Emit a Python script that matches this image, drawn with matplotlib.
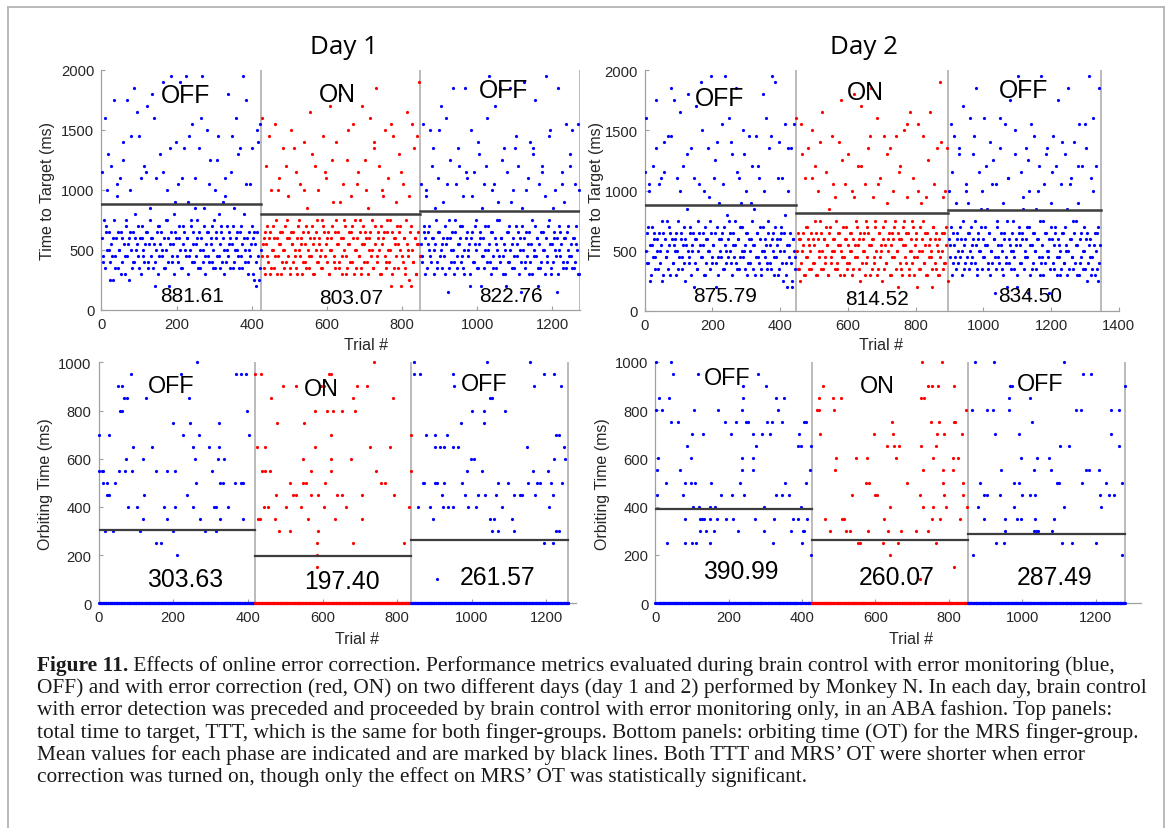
import numpy as np
import matplotlib
matplotlib.use("Agg")
import matplotlib.pyplot as plt
from matplotlib.lines import Line2D

plt.rcParams['font.family'] = ['Liberation Sans', 'DejaVu Sans']

W, H = 1171, 829

# ---------------- data ----------------
phase_names = ['OFF', 'ON', 'OFF']
phase_colors = ['#0000ff', '#ff0000', '#0000ff']

# time to target (ms), read left to right; the "_b" lists are the trials in between
day1_ttt_off1 = [1150, 400, 750, 1600, 650, 1000, 500, 250, 1200, 450,
                 600, 1750, 350, 1050, 650, 500, 1100, 300, 600, 1400,
                 450, 750, 1750, 550, 250, 650, 1450, 400, 1850, 600,
                 500, 1650, 700, 350, 1100, 600, 450, 1200, 550, 650,
                 1700, 400, 850, 600, 1800, 350, 550, 200, 1100, 700,
                 450, 1300, 650, 500, 1900, 350, 750, 1000, 600, 200,
                 550, 1950, 400, 800, 650, 1400, 450, 1050, 600, 1900,
                 350, 700, 1350, 500, 1950, 600, 900, 450, 750, 1550,
                 650, 400, 1100, 550, 750, 1350, 350, 600, 1950, 500,
                 850, 450, 1500, 650, 400, 1250, 550, 700, 350, 1000,
                 600, 450, 1450, 800, 350, 650, 900, 500, 1100, 400,
                 700, 1800, 550, 600, 1450, 350, 850, 500, 1600, 650,
                 450, 1350, 700, 350, 1950, 600, 500, 1750, 400, 650,
                 1050, 550, 1350, 300, 650, 200, 1500, 450, 250, 1550]
day1_ttt_off1_b = [600, 450, 350, 700, 500, 1300, 650, 400, 550, 250,
                   750, 450, 600, 950, 350, 500, 650, 400, 1250, 550,
                   300, 700, 450, 600, 1000, 500, 350, 650, 400, 800,
                   550, 450, 1450, 600, 300, 700, 500, 400, 1150, 650,
                   350, 550, 750, 450, 600, 1600, 400, 500, 650, 300,
                   700, 550, 450, 1150, 600, 350, 500, 750, 400, 1350,
                   650, 450, 550, 300, 900, 600, 400, 700, 500, 350,
                   1100, 550, 650, 450, 600, 300, 1450, 500, 700, 400,
                   550, 850, 450, 600, 350, 650, 500, 1600, 400, 700,
                   300, 550, 650, 450, 1050, 600, 400, 500, 750, 350,
                   650, 1250, 450, 550, 700, 400, 600, 300, 950, 500,
                   450, 650, 350, 1150, 550, 700, 400, 600, 500, 1300,
                   350, 650, 450, 550, 800, 400, 1050, 600, 300, 500,
                   450, 700, 600, 250, 550, 400, 650, 1400, 350, 500]
day1_ttt_on = [1600, 550, 350, 650, 1200, 450, 600, 300, 1000, 500,
               700, 350, 1550, 600, 450, 1100, 550, 300, 650, 1350,
               500, 400, 750, 950, 600, 350, 1500, 550, 650, 450,
               1150, 300, 700, 500, 1050, 600, 400, 1400, 550, 350,
               850, 650, 450, 1650, 700, 300, 600, 1200, 500, 400,
               1000, 550, 350, 750, 1450, 650, 450, 1100, 600, 300,
               1700, 500, 700, 900, 400, 650, 1400, 550, 350, 1800,
               600, 450, 1050, 750, 300, 1250, 550, 650, 400, 950,
               700, 1550, 500, 350, 600, 1150, 450, 750, 300, 1700,
               550, 650, 1000, 400, 850, 600, 1600, 500, 350, 1350,
               700, 1850, 450, 600, 1200, 300, 550, 950, 650, 1500,
               400, 750, 1100, 500, 200, 650, 1450, 350, 600, 900,
               550, 1300, 700, 200, 450, 1050, 600, 350, 1650, 500,
               950, 650, 200, 1550, 400, 600, 300, 1450, 550, 1900]
day1_ttt_on_b = [450, 600, 300, 550, 700, 400, 1450, 650, 350, 500,
                 600, 450, 750, 300, 1000, 550, 650, 400, 500, 350,
                 700, 1200, 600, 450, 300, 650, 550, 400, 1350, 500,
                 350, 600, 750, 450, 550, 300, 650, 1000, 400, 700,
                 500, 350, 600, 450, 1300, 550, 300, 650, 750, 400,
                 600, 450, 500, 350, 700, 1150, 550, 400, 650, 300,
                 500, 600, 1250, 450, 350, 750, 550, 650, 400, 900,
                 300, 600, 500, 700, 450, 350, 1500, 550, 650, 400,
                 600, 300, 750, 500, 1050, 450, 650, 350, 550, 700,
                 400, 1250, 600, 300, 500, 650, 450, 750, 350, 1400,
                 550, 400, 650, 500, 300, 700, 1000, 600, 450, 350,
                 650, 500, 400, 750, 1550, 300, 600, 550, 450, 700,
                 350, 650, 500, 1150, 400, 600, 300, 750, 550, 450,
                 250, 700, 500, 400, 1350, 600, 300, 550, 650, 450]
day1_ttt_off2 = [1050, 450, 1550, 650, 300, 950, 550, 700, 1500, 400,
                 600, 1350, 500, 850, 350, 1100, 650, 450, 1700, 550,
                 900, 300, 1600, 600, 150, 750, 1250, 500, 1850, 400,
                 650, 1050, 350, 550, 1200, 700, 450, 950, 300, 1850,
                 600, 1100, 500, 200, 1500, 650, 400, 1150, 550, 750,
                 350, 1300, 600, 200, 850, 450, 1050, 700, 1600, 500,
                 1950, 400, 650, 1000, 350, 1700, 550, 750, 900, 450,
                 1850, 600, 300, 1350, 500, 200, 1150, 650, 400, 1850,
                 550, 1000, 350, 1350, 700, 450, 1200, 600, 150, 850,
                 500, 1900, 400, 650, 1100, 300, 1400, 550, 750, 1350,
                 450, 1750, 600, 200, 1050, 350, 650, 1200, 500, 950,
                 1950, 400, 700, 1450, 550, 300, 850, 600, 1000, 450,
                 150, 1850, 500, 650, 1150, 350, 900, 600, 1550, 400,
                 700, 1200, 450, 1500, 600, 350, 1050, 550, 1550, 300]
day1_ttt_off2_b = [550, 400, 700, 600, 1000, 350, 650, 500, 450, 1200,
                   600, 300, 550, 750, 400, 650, 1500, 500, 350, 600,
                   450, 700, 550, 1050, 350, 600, 400, 650, 500, 300,
                   750, 450, 1350, 550, 600, 400, 700, 350, 500, 1150,
                   650, 450, 550, 300, 600, 950, 400, 700, 500, 350,
                   1400, 550, 650, 450, 600, 350, 500, 1200, 400, 700,
                   550, 300, 650, 450, 1050, 600, 350, 500, 750, 400,
                   600, 1250, 450, 550, 300, 650, 400, 700, 500, 900,
                   350, 600, 450, 1450, 550, 650, 300, 500, 400, 700,
                   600, 350, 1000, 450, 550, 650, 400, 300, 1300, 500,
                   700, 450, 600, 350, 550, 400, 1150, 650, 500, 300,
                   600, 450, 750, 1500, 350, 550, 400, 650, 500, 600,
                   300, 700, 450, 550, 1050, 400, 600, 350, 650, 500,
                   450, 1300, 550, 350, 600, 400, 700, 500, 300, 1000]

day2_ttt_off1 = [1150, 1600, 400, 700, 1000, 250, 550, 1200, 650, 450,
                 1750, 600, 350, 1050, 500, 1100, 250, 650, 1400, 450,
                 750, 1450, 550, 300, 1850, 600, 400, 1750, 500, 650,
                 1100, 350, 1650, 600, 450, 1200, 700, 250, 550, 850,
                 1800, 400, 650, 1350, 500, 200, 600, 1700, 350, 750,
                 1050, 550, 1900, 450, 650, 1000, 300, 600, 1350, 500,
                 750, 1950, 400, 550, 1100, 650, 200, 1400, 450, 900,
                 600, 1550, 350, 700, 1950, 500, 800, 450, 1600, 650,
                 400, 1300, 550, 750, 1850, 350, 600, 1100, 450, 900,
                 700, 1500, 500, 350, 1000, 650, 1450, 400, 600, 1200,
                 550, 850, 300, 1450, 650, 450, 1100, 700, 350, 1800,
                 500, 600, 1600, 400, 750, 1350, 550, 350, 1950, 650,
                 450, 1900, 600, 300, 1400, 500, 700, 1100, 250, 650,
                 1550, 400, 200, 1000, 550, 1350, 250, 600, 1550, 450]
day2_ttt_off1_b = [500, 650, 400, 1050, 550, 300, 700, 450, 600, 350,
                   1350, 500, 650, 400, 550, 750, 300, 1150, 600, 450,
                   500, 350, 700, 650, 1450, 400, 550, 600, 300, 500,
                   750, 450, 1000, 650, 350, 550, 400, 600, 1300, 500,
                   450, 700, 300, 550, 650, 1100, 400, 600, 350, 500,
                   650, 450, 1500, 550, 300, 700, 400, 600, 500, 950,
                   350, 650, 450, 550, 1250, 400, 700, 300, 600, 500,
                   450, 650, 1050, 350, 550, 400, 600, 750, 500, 1400,
                   300, 650, 450, 550, 400, 1150, 600, 350, 700, 500,
                   450, 1300, 550, 650, 300, 400, 600, 500, 900, 750,
                   350, 550, 450, 650, 1200, 400, 600, 300, 500, 700,
                   1000, 450, 550, 350, 650, 400, 1450, 600, 500, 300,
                   700, 450, 550, 1100, 350, 600, 650, 400, 500, 800,
                   300, 550, 1350, 450, 650, 400, 200, 600, 500, 350]
day2_ttt_on = [1600, 350, 600, 250, 1550, 500, 650, 300, 1100, 450,
               700, 1350, 550, 350, 1500, 600, 400, 1200, 650, 300,
               1000, 500, 750, 350, 1650, 600, 450, 1150, 550, 300,
               850, 700, 400, 1450, 600, 500, 950, 350, 650, 1400,
               550, 1750, 450, 700, 300, 1050, 600, 400, 1300, 500,
               650, 1000, 350, 1800, 550, 750, 450, 1200, 600, 250,
               1700, 500, 650, 1050, 400, 700, 1350, 550, 300, 1850,
               600, 950, 450, 750, 1600, 350, 650, 1100, 500, 250,
               700, 1450, 550, 400, 900, 600, 1350, 300, 650, 1000,
               450, 750, 1450, 500, 200, 600, 1200, 350, 700, 1500,
               550, 400, 950, 650, 300, 1650, 500, 750, 1100, 450,
               600, 200, 1550, 350, 700, 900, 500, 1450, 400, 650,
               950, 300, 550, 1650, 450, 200, 700, 1050, 600, 350,
               1350, 500, 300, 1900, 650, 950, 400, 1000, 550, 1350]
day2_ttt_on_b = [500, 650, 350, 600, 400, 1300, 550, 300, 700, 450,
                 600, 350, 500, 650, 1100, 400, 550, 750, 300, 600,
                 450, 1400, 650, 500, 350, 600, 400, 700, 550, 300,
                 650, 450, 500, 1050, 600, 350, 750, 400, 550, 650,
                 300, 500, 1250, 450, 600, 700, 350, 550, 400, 650,
                 500, 300, 600, 950, 450, 700, 550, 350, 650, 1200,
                 400, 600, 500, 300, 750, 450, 650, 1450, 550, 350,
                 600, 400, 700, 500, 300, 1050, 650, 450, 550, 600,
                 350, 750, 400, 1300, 500, 650, 300, 550, 450, 600,
                 700, 350, 500, 650, 1150, 400, 600, 300, 550, 750,
                 450, 650, 1550, 350, 500, 600, 400, 700, 300, 550,
                 650, 450, 1000, 500, 350, 600, 750, 400, 550, 300,
                 650, 1250, 450, 600, 500, 350, 700, 400, 650, 550,
                 300, 600, 450, 1400, 500, 350, 650, 400, 700, 250]
day2_ttt_off2 = [1000, 550, 1550, 300, 650, 1450, 450, 900, 600, 400,
                 1350, 700, 500, 1700, 350, 600, 1050, 450, 900, 650,
                 1600, 400, 550, 1300, 750, 1850, 350, 600, 1150, 500,
                 700, 1000, 450, 1600, 550, 850, 350, 650, 1400, 500,
                 400, 1250, 600, 150, 1050, 750, 450, 1600, 550, 350,
                 900, 650, 1550, 400, 200, 1100, 600, 1750, 500, 750,
                 350, 1300, 550, 200, 1950, 650, 400, 1150, 600, 850,
                 450, 1350, 700, 150, 1000, 550, 1550, 350, 650, 1450,
                 500, 850, 600, 1200, 300, 1950, 450, 750, 1050, 400,
                 650, 1350, 500, 150, 900, 600, 1450, 350, 700, 1200,
                 450, 1750, 550, 300, 1050, 650, 400, 1300, 500, 850,
                 1850, 350, 600, 1100, 450, 750, 1400, 550, 300, 900,
                 1550, 400, 650, 1200, 350, 500, 1550, 600, 250, 1950,
                 450, 1100, 350, 1600, 550, 300, 1200, 650, 250, 1850]
day2_ttt_off2_b = [600, 450, 700, 1150, 400, 550, 350, 650, 500, 1300,
                   450, 600, 300, 750, 550, 400, 1000, 650, 350, 500,
                   700, 450, 600, 1450, 400, 550, 300, 650, 500, 850,
                   350, 600, 450, 700, 1200, 550, 400, 650, 300, 500,
                   1050, 600, 450, 350, 700, 550, 400, 1350, 650, 500,
                   300, 600, 450, 750, 1100, 400, 550, 350, 650, 500,
                   450, 1500, 600, 300, 700, 550, 400, 650, 950, 350,
                   500, 600, 450, 1250, 700, 300, 550, 400, 650, 500,
                   350, 600, 1000, 450, 750, 400, 550, 300, 650, 1300,
                   500, 450, 600, 350, 700, 1150, 400, 550, 650, 300,
                   600, 450, 500, 350, 1400, 650, 400, 700, 550, 300,
                   500, 1050, 600, 450, 350, 650, 400, 750, 550, 1200,
                   300, 600, 450, 500, 700, 350, 1350, 650, 400, 550,
                   600, 300, 450, 1000, 650, 500, 350, 700, 400, 550]

day1_ttt_bounds = [0, 426, 849, 1274]
day2_ttt_bounds = [0, 447, 896, 1346]
day1_ttt_means = [881.61, 803.07, 822.76]
day2_ttt_means = [875.79, 814.52, 834.50]

# orbiting time: (trial, ms) for trials with OT > 0, every other trial is 0
day1_ot_off1 = [(0, 700), (1, 550), (8, 550), (12, 550), (12, 500), (22, 500), (22, 450), (29, 450),
                (17, 300), (38, 300), (27, 700), (44, 500), (51, 900), (63, 900), (57, 800), (63, 800),
                (67, 850), (76, 850), (55, 550), (70, 550), (73, 600), (80, 400), (86, 950), (92, 650),
                (89, 550), (103, 400), (111, 300), (119, 350), (120, 600), (122, 450), (127, 850),
                (142, 650), (153, 550), (153, 250), (168, 250), (175, 400), (182, 550), (184, 350),
                (199, 750), (199, 300), (206, 400), (205, 550), (210, 200), (221, 950), (225, 700),
                (237, 450), (243, 850), (246, 750), (253, 400), (252, 650), (258, 600), (262, 500),
                (265, 1000), (268, 700), (271, 350), (285, 300), (297, 650), (304, 550), (309, 400),
                (314, 400), (314, 300), (321, 600), (337, 600), (323, 650), (323, 750), (325, 500),
                (333, 500), (326, 350), (347, 400), (366, 500), (369, 950), (381, 950), (381, 500),
                (388, 500), (387, 350), (394, 950), (397, 800), (403, 700)]
day1_ot_on = [(419, 950), (436, 950), (425, 650), (447, 650), (428, 350), (433, 350), (438, 550),
              (447, 550), (459, 550), (443, 400), (455, 400), (462, 850), (474, 350), (476, 450),
              (479, 750), (484, 300), (512, 300), (493, 900), (501, 400), (514, 500), (522, 450),
              (529, 450), (529, 900), (543, 400), (548, 600), (548, 500), (555, 500), (551, 750),
              (560, 350), (568, 450), (568, 550), (579, 800), (581, 650), (589, 300), (586, 250),
              (586, 200), (584, 150), (596, 900), (603, 900), (589, 450), (603, 400), (606, 500),
              (612, 800), (618, 950), (624, 950), (622, 600), (624, 700), (627, 800), (624, 550),
              (634, 350), (639, 450), (651, 450), (653, 800), (662, 400), (676, 600), (682, 850),
              (682, 250), (686, 800), (693, 900), (705, 350), (707, 450), (720, 900), (727, 650),
              (737, 1000), (742, 550), (758, 500), (768, 500), (780, 650), (788, 850), (792, 450),
              (818, 250), (832, 400), (837, 700), (836, 550)]
day1_ot_off2 = [(844, 1000), (844, 950), (860, 950), (857, 400), (868, 500), (873, 500), (876, 700),
                (889, 400), (897, 350), (902, 700), (902, 650), (902, 500), (908, 500), (914, 650),
                (925, 650), (921, 450), (925, 500), (923, 400), (935, 400), (933, 700), (949, 950),
                (952, 900), (949, 650), (964, 650), (949, 400), (970, 750), (973, 500), (981, 450),
                (987, 550), (991, 400), (1000, 800), (998, 600), (1007, 600), (1012, 400), (1016, 450),
                (1026, 550), (1033, 750), (1033, 800), (1036, 450), (1042, 1000), (1050, 850),
                (1055, 850), (1055, 300), (1069, 300), (1050, 350), (1059, 350), (1064, 450),
                (1071, 500), (1080, 400), (1088, 800), (1098, 500), (1107, 350), (1112, 300),
                (1112, 450), (1128, 450), (1134, 450), (1148, 650), (1150, 500), (1155, 1000),
                (1163, 550), (1167, 900), (1169, 450), (1176, 500), (1183, 500), (1193, 950),
                (1193, 250), (1203, 550), (1207, 400), (1212, 500), (1217, 250), (1217, 450),
                (1220, 600), (1221, 950), (1226, 700), (1233, 700), (1226, 300), (1233, 300),
                (1238, 900), (1241, 500), (1246, 650), (1250, 600), (907, 100)]

day2_ot_off1 = [(3, 1000), (43, 1000), (10, 850), (36, 850), (3, 800), (18, 800), (49, 950), (43, 750),
                (62, 750), (8, 600), (4, 550), (5, 450), (29, 500), (31, 250), (67, 550), (75, 450),
                (80, 500), (82, 350), (80, 250), (87, 650), (98, 600), (100, 700), (97, 500), (108, 500),
                (100, 250), (110, 250), (105, 800), (103, 400), (118, 400), (115, 950), (121, 350),
                (128, 350), (133, 350), (121, 300), (131, 700), (138, 300), (149, 350), (151, 500),
                (149, 400), (162, 400), (149, 250), (159, 300), (169, 350), (172, 800), (179, 450),
                (190, 750), (193, 350), (207, 700), (208, 450), (213, 350), (220, 750), (226, 300),
                (231, 500), (236, 800), (236, 550), (236, 600), (238, 850), (238, 900), (241, 450),
                (246, 750), (252, 750), (267, 700), (267, 600), (267, 550), (275, 650), (272, 350),
                (279, 950), (292, 700), (295, 400), (297, 300), (303, 900), (305, 750), (318, 750),
                (313, 700), (320, 250), (323, 350), (330, 450), (344, 450), (333, 800), (330, 850),
                (351, 850), (344, 750), (354, 500), (364, 450), (369, 300), (374, 350), (390, 350),
                (392, 700), (388, 650), (398, 650), (398, 400), (400, 250), (402, 300), (406, 300),
                (405, 750), (410, 750), (410, 500), (413, 350), (423, 200), (423, 650), (421, 550)]
day2_ot_on = [(441, 800), (446, 800), (446, 850), (456, 900), (449, 700), (462, 350), (477, 300),
              (484, 850), (505, 850), (487, 800), (492, 600), (490, 550), (508, 350), (513, 350),
              (521, 300), (531, 300), (536, 450), (546, 600), (552, 250), (559, 250), (574, 500),
              (583, 500), (577, 600), (580, 300), (595, 700), (600, 450), (605, 450), (621, 250),
              (624, 350), (631, 650), (634, 300), (639, 400), (639, 200), (644, 750), (648, 700),
              (651, 650), (656, 600), (662, 250), (665, 650), (669, 300), (687, 500), (711, 300),
              (720, 450), (723, 650), (723, 850), (726, 1000), (729, 550), (730, 400), (733, 850),
              (744, 900), (754, 900), (771, 900), (744, 300), (751, 750), (754, 350), (757, 600),
              (757, 400), (764, 650), (765, 250), (767, 700), (773, 750), (777, 350), (782, 1000),
              (785, 500), (785, 550), (788, 700), (788, 450), (792, 400), (813, 150), (813, 750),
              (818, 750), (815, 900), (810, 600), (824, 600), (810, 550), (831, 350), (836, 700),
              (839, 500), (839, 450), (846, 800), (849, 400), (721, 100)]
day2_ot_off2 = [(862, 800), (870, 1000), (867, 200), (880, 400), (884, 500), (895, 350), (895, 450),
                (903, 450), (903, 800), (923, 1000), (921, 800), (926, 700), (928, 250), (949, 250),
                (938, 450), (941, 550), (954, 350), (954, 300), (964, 850), (964, 800), (966, 900),
                (972, 900), (977, 400), (977, 500), (990, 500), (985, 350), (997, 350), (990, 700),
                (997, 600), (1000, 450), (1021, 850), (1026, 750), (1031, 550), (1021, 450),
                (1036, 450), (1031, 300), (1038, 300), (1044, 300), (1036, 350), (1041, 600),
                (1072, 600), (1077, 550), (1082, 300), (1087, 350), (1095, 500), (1100, 500),
                (1103, 650), (1108, 250), (1113, 400), (1115, 1000), (1128, 650), (1136, 250),
                (1146, 800), (1161, 800), (1164, 500), (1166, 950), (1187, 950), (1174, 550),
                (1182, 550), (1200, 250), (1208, 550), (1215, 400), (1213, 450), (1229, 500),
                (1236, 450), (1249, 450), (1243, 800), (1241, 700), (1264, 800), (1264, 650),
                (1272, 500), (1272, 200), (1280, 900)]

day1_ot_bounds = [0, 419, 838, 1259]
day2_ot_bounds = [0, 426, 853, 1280]
day1_ot_means = [303.63, 197.40, 261.57]
day2_ot_means = [390.99, 260.07, 287.49]

caption_lines = [
    "Effects of online error correction. Performance metrics evaluated during brain control with error monitoring (blue,",
    "OFF) and with error correction (red, ON) on two different days (day 1 and 2) performed by Monkey N. In each day, brain control",
    "with error detection was preceded and proceeded by brain control with error monitoring only, in an ABA fashion. Top panels:",
    "total time to target, TTT, which is the same for both finger-groups. Bottom panels: orbiting time (OT) for the MRS finger-group.",
    "Mean values for each phase are indicated and are marked by black lines. Both TTT and MRS\u2019 OT were shorter when error",
    "correction was turned on, though only the effect on MRS\u2019 OT was statistically significant.",
]


# ---------------- helpers ----------------
def px_rect(x0, y_top, x1, y_bot):
    return [x0 / W, 1 - y_bot / H, (x1 - x0) / W, (y_bot - y_top) / H]


def style_axes(ax, xmax, ymax, xticks, yticks):
    ax.set_xlim(0, xmax)
    ax.set_ylim(0, ymax)
    ax.set_xticks(xticks)
    ax.set_yticks(yticks)
    ax.spines['top'].set_visible(False)
    ax.spines['right'].set_visible(False)
    for s in ['left', 'bottom']:
        ax.spines[s].set_color('#a0a0a0')
        ax.spines[s].set_linewidth(0.9)
    ax.tick_params(direction='in', length=3, width=0.8, color='#a0a0a0',
                   labelsize=10.6, labelcolor='#262626', pad=5)


def draw_ttt(ax, phases, bounds, means, label_pos, mean_pos):
    for i, (vals_a, vals_b) in enumerate(phases):
        vals = np.column_stack([vals_a, vals_b]).ravel()
        trials = np.linspace(bounds[i] + 1, bounds[i + 1] - 2, len(vals))
        ax.plot(trials, vals, 'o', ms=2.3, mew=0, color=phase_colors[i], zorder=3)
        ax.plot([bounds[i], bounds[i + 1]], [means[i], means[i]], color='#3c3c3c', lw=1.8, zorder=4)
        ax.text(label_pos[i][0], label_pos[i][1], phase_names[i], ha='center', va='center',
                fontsize=17.8, color='black', zorder=5)
        ax.text(mean_pos[i][0], mean_pos[i][1], '%.2f' % means[i], ha='center', va='center',
                fontsize=15, color='black', zorder=5)
    for b in bounds[1:]:
        ax.axvline(b, color='#a8a8a8', lw=1.1, zorder=2)


def draw_ot(ax, phases, bounds, means, label_pos, mean_pos):
    for i, pairs in enumerate(phases):
        nz_trials = [p[0] for p in pairs]
        nz_vals = [p[1] for p in pairs]
        nz_set = set(nz_trials)
        zero_trials = [t for t in range(bounds[i], bounds[i + 1]) if t not in nz_set]
        ax.plot(zero_trials, np.zeros(len(zero_trials)), 'o', ms=2.3, mew=0,
                color=phase_colors[i], zorder=3, clip_on=False)
        ax.plot(nz_trials, nz_vals, 'o', ms=2.3, mew=0, color=phase_colors[i], zorder=3, clip_on=False)
        ax.plot([bounds[i], bounds[i + 1]], [means[i], means[i]], color='#3c3c3c', lw=1.6, zorder=4)
        ax.text(label_pos[i][0], label_pos[i][1], phase_names[i], ha='center', va='center',
                fontsize=16.8, color='black', zorder=5)
        ax.text(mean_pos[i][0], mean_pos[i][1], '%.2f' % means[i], ha='center', va='center',
                fontsize=17.8, color='black', zorder=5)
    for b in bounds[1:]:
        ax.axvline(b, color='#a8a8a8', lw=1.1, zorder=2)


# ---------------- figure ----------------
fig = plt.figure(figsize=(W / 100, H / 100), dpi=100)

ax1 = fig.add_axes(px_rect(101.4, 70.7, 580.0, 311.0))
ax2 = fig.add_axes(px_rect(644.7, 71.3, 1118.9, 311.7))
ax3 = fig.add_axes(px_rect(98.6, 363.3, 576.3, 604.3))
ax4 = fig.add_axes(px_rect(655.3, 362.7, 1140.8, 604.3))

style_axes(ax1, 1274, 2000, range(0, 1201, 200), range(0, 2001, 500))
style_axes(ax2, 1400, 2000, range(0, 1401, 200), range(0, 2001, 500))
style_axes(ax3, 1280, 1000, range(0, 1201, 200), range(0, 1001, 200))
style_axes(ax4, 1323, 1000, range(0, 1201, 200), range(0, 1001, 200))

draw_ttt(ax1, [(day1_ttt_off1, day1_ttt_off1_b), (day1_ttt_on, day1_ttt_on_b),
               (day1_ttt_off2, day1_ttt_off2_b)], day1_ttt_bounds, day1_ttt_means,
         [(223, 1786), (629, 1800), (1070, 1830)], [(241, 120), (664, 100), (1089, 120)])
draw_ttt(ax2, [(day2_ttt_off1, day2_ttt_off1_b), (day2_ttt_on, day2_ttt_on_b),
               (day2_ttt_off2, day2_ttt_off2_b)], day2_ttt_bounds, day2_ttt_means,
         [(220, 1771), (651, 1820), (1118, 1840)], [(237, 125), (687, 105), (1137, 125)])
draw_ot(ax3, [day1_ot_off1, day1_ot_on, day1_ot_off2], day1_ot_bounds, day1_ot_means,
        [(194, 903), (596, 892), (1032, 910)], [(231, 101), (651, 91), (1070, 111)])
draw_ot(ax4, [day2_ot_off1, day2_ot_on, day2_ot_off2], day2_ot_bounds, day2_ot_means,
        [(195, 935), (605, 903), (1048, 908)], [(234, 135), (658, 108), (1087, 110)])

# titles and axis labels
fig.text(344 / W, 1 - 47 / H, 'Day 1', ha='center', va='center', fontsize=18.7, family='Open Sans')
fig.text(864 / W, 1 - 47 / H, 'Day 2', ha='center', va='center', fontsize=18.7, family='Open Sans')
for x, y in [(48, 191), (596, 191)]:
    fig.text(x / W, 1 - y / H, 'Time to Target (ms)', rotation=90, ha='center', va='center',
             fontsize=11.5, color='#262626')
for x, y in [(46, 484), (603, 484)]:
    fig.text(x / W, 1 - y / H, 'Orbiting Time (ms)', rotation=90, ha='center', va='center',
             fontsize=11.5, color='#262626')
for x, y in [(366, 346), (881, 346), (357, 640), (911, 640)]:
    fig.text(x / W, 1 - y / H, 'Trial #', ha='center', va='center', fontsize=11.5, color='#262626')

# outer frame
frame_kw = dict(color='#b4b4b4', lw=1.3, transform=fig.transFigure)
fig.add_artist(Line2D([8 / W, 1164 / W], [1 - 8 / H, 1 - 8 / H], **frame_kw))
fig.add_artist(Line2D([8 / W, 8 / W], [1 - 8 / H, 0], **frame_kw))
fig.add_artist(Line2D([1164 / W, 1164 / W], [1 - 8 / H, 0], **frame_kw))

# caption, font size fitted to the widest line
renderer = fig.canvas.get_renderer()
probe = fig.text(0, 0, caption_lines[1], fontsize=14, family='Liberation Serif')
cap_fs = 14 * 1111 / probe.get_window_extent(renderer).width
probe.remove()

cap_x = 37
cap_y = [666, 688, 710, 733, 755, 777]
bold = fig.text(cap_x / W, 1 - cap_y[0] / H, 'Figure 11.', fontsize=cap_fs, family='Liberation Serif',
                weight='bold', color='#1a1a1a', va='center')
bw = bold.get_window_extent(renderer).width
fig.text((cap_x + bw) / W, 1 - cap_y[0] / H, ' ' + caption_lines[0], fontsize=cap_fs,
         family='Liberation Serif', color='#1a1a1a', va='center')
for line, y in zip(caption_lines[1:], cap_y[1:]):
    fig.text(cap_x / W, 1 - y / H, line, fontsize=cap_fs, family='Liberation Serif',
             color='#1a1a1a', va='center')

fig.savefig('out.png', dpi=100)
